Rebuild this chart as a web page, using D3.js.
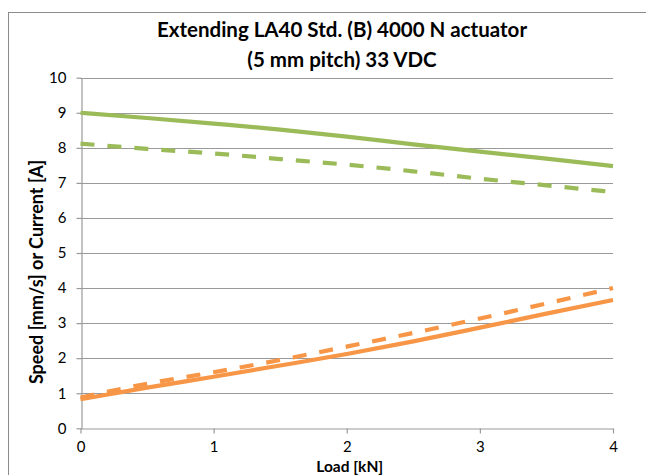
<!DOCTYPE html>
<html><head><meta charset="utf-8">
<script src="https://cdn.jsdelivr.net/npm/d3@7"></script>
<style>body{margin:0;background:#fff}svg{display:block}text{font-family:Lato,"Open Sans",sans-serif;fill:#000}</style>
</head><body>
<script>
const titleLines = ["Extending LA40 Std. (B) 4000 N actuator", "(5 mm pitch) 33 VDC"];
const xTitle = "Load [kN]";
const yTitle = "Speed [mm/s] or Current [A]";
const load = [0, 0.5, 1, 1.5, 2, 2.5, 3, 3.5, 4];
const greenSolid = [9.0, 8.85, 8.69, 8.52, 8.32, 8.10, 7.89, 7.69, 7.48];
const greenDashed = [8.12, 7.97, 7.84, 7.68, 7.52, 7.33, 7.12, 6.93, 6.74];
const orangeSolid = [0.83, 1.16, 1.47, 1.79, 2.12, 2.48, 2.87, 3.27, 3.66];
const orangeDashed = [0.88, 1.27, 1.6, 1.95, 2.33, 2.72, 3.13, 3.56, 4.0];
const xTicks = [0, 1, 2, 3, 4];
const yTicks = [0, 1, 2, 3, 4, 5, 6, 7, 8, 9, 10];

const W = 646, H = 475;
const svg = d3.select("body").append("svg").attr("width", W).attr("height", H);
svg.append("rect").attr("x", 8.5).attr("y", 12.5).attr("width", 700).attr("height", 500)
  .attr("fill", "#fff").attr("stroke", "#8c8c8c").attr("stroke-width", 1);

const x = d3.scaleLinear().domain([0, 4]).range([80.5, 613]);
const y = d3.scaleLinear().domain([0, 10]).range([428.3, 77.7]);

const grid = svg.append("g");
grid.selectAll("line").data(yTicks.filter(d => d > 0)).join("line")
  .attr("x1", x(0)).attr("x2", x(4))
  .attr("y1", d => Math.round(y(d)) + 0.5).attr("y2", d => Math.round(y(d)) + 0.5)
  .attr("stroke", "#9a9a9a").attr("stroke-width", 1.2);

const xAxis = svg.append("g").attr("transform", `translate(0,${Math.round(y(0)) + 0.5})`)
  .call(d3.axisBottom(x).tickValues(xTicks).tickFormat(d3.format("d")).tickSize(5).tickSizeOuter(0));
const yAxis = svg.append("g").attr("transform", `translate(${Math.round(x(0)) + 0.5},0)`)
  .call(d3.axisLeft(y).tickValues(yTicks).tickFormat(d3.format("d")).tickSize(5).tickSizeOuter(0));
[xAxis, yAxis].forEach(g => {
  g.select(".domain").attr("stroke", "#9a9a9a").attr("stroke-width", 1.2);
  g.selectAll(".tick line").attr("stroke", "#9a9a9a").attr("stroke-width", 1.2);
  g.selectAll(".tick text").attr("font-family", "Lato").attr("font-size", 15).attr("fill", "#000");
});
xAxis.selectAll(".tick text").attr("dy", "1.05em");
yAxis.selectAll(".tick text").attr("x", -15);

const line = vals => d3.line().x((d, i) => x(load[i])).y(d => y(d)).curve(d3.curveMonotoneX)(vals);
const series = [
  {v: greenDashed, c: "#9BBB59", dash: "14,13"},
  {v: greenSolid, c: "#9BBB59", dash: null},
  {v: orangeDashed, c: "#F79646", dash: "14,13"},
  {v: orangeSolid, c: "#F79646", dash: null}
];
series.forEach(s => {
  svg.append("path").attr("d", line(s.v)).attr("fill", "none").attr("stroke", s.c)
    .attr("stroke-width", 4.2).attr("stroke-dasharray", s.dash);
});

const t = svg.append("text").attr("text-anchor", "middle").attr("font-weight", "bold").attr("font-size", 20.5);
t.append("tspan").attr("x", 342).attr("y", 37).text(titleLines[0]);
t.append("tspan").attr("x", 342).attr("y", 67).text(titleLines[1]);

svg.append("text").attr("x", x(2) + 3).attr("y", 472).attr("text-anchor", "middle")
  .attr("font-weight", "bold").attr("font-size", 15.5).text(xTitle);
svg.append("text").attr("transform", "translate(43,272) rotate(-90)").attr("text-anchor", "middle")
  .attr("font-weight", "bold").attr("font-size", 18).text(yTitle);
</script>
</body></html>
